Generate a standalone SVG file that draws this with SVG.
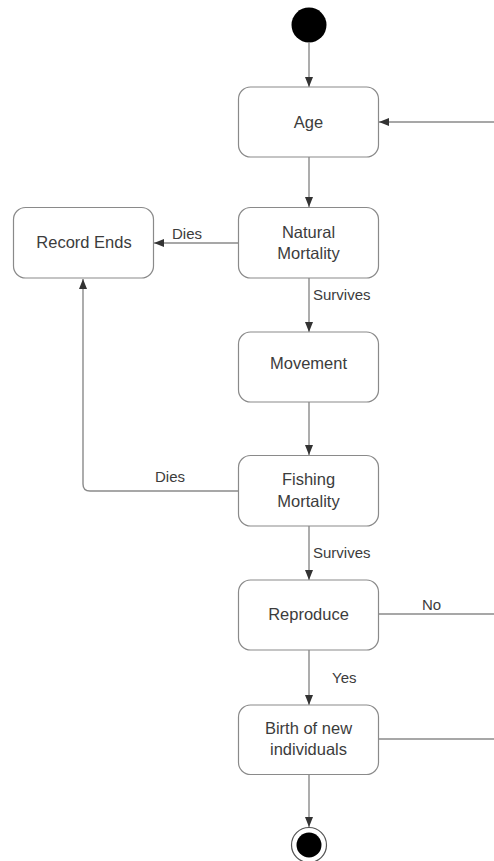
<svg xmlns="http://www.w3.org/2000/svg" width="494" height="861" viewBox="0 0 494 861">
<style>
.node rect{fill:#fff;stroke:#8a8a8a;stroke-width:1.2}
.node text{font-family:"Liberation Sans",Arial,sans-serif;font-size:16.5px;fill:#3c3c3c;text-anchor:middle}
.lbl{font-family:"Liberation Sans",Arial,sans-serif;font-size:15px;fill:#3c3c3c}
.edge{fill:none;stroke:#8a8a8a;stroke-width:1.4}
.arr{marker-end:url(#ah)}
</style>
<defs>
<marker id="ah" markerWidth="10" markerHeight="10" viewBox="0 0 10 10" refX="10" refY="5" orient="auto" markerUnits="userSpaceOnUse">
<path d="M0,1 L10,5 L0,9 Z" fill="#333"/>
</marker>
</defs>
<rect width="494" height="861" fill="#fff"/>
<g id="connectors">
<path class="edge arr" d="M309,43 V87"/>
<path class="edge arr" d="M494,122 H379"/>
<path class="edge arr" d="M309,157 V207"/>
<path class="edge arr" d="M239,243 H154"/>
<path class="edge arr" d="M309,278 V332"/>
<path class="edge arr" d="M309,402 V455"/>
<path class="edge arr" d="M239,491 H90 Q83,491 83,484 V279"/>
<path class="edge arr" d="M309,526 V580"/>
<path class="edge" d="M379,614 H494"/>
<path class="edge arr" d="M309,650 V705"/>
<path class="edge" d="M379,739 H494"/>
<path class="edge arr" d="M309,774 V827"/>
<text class="lbl" x="172" y="239">Dies</text>
<text class="lbl" x="313" y="300">Survives</text>
<text class="lbl" x="155" y="482">Dies</text>
<text class="lbl" x="313" y="558">Survives</text>
<text class="lbl" x="422" y="610">No</text>
<text class="lbl" x="332" y="683">Yes</text>
</g>
<g id="start"><circle cx="309" cy="25" r="17.5" fill="#000"/></g>
<g id="age" class="node"><rect x="238.5" y="87" width="140" height="70" rx="12"/><text x="308.5" y="128">Age</text></g>
<g id="natural" class="node"><rect x="238.5" y="207.5" width="140" height="70.5" rx="12"/><text x="308.5" y="238">Natural</text><text x="308.5" y="259">Mortality</text></g>
<g id="record" class="node"><rect x="13.5" y="207.5" width="140" height="70.5" rx="12"/><text x="84" y="248">Record Ends</text></g>
<g id="movement" class="node"><rect x="238.5" y="332" width="140" height="70" rx="12"/><text x="308.5" y="369">Movement</text></g>
<g id="fishing" class="node"><rect x="238.5" y="455.5" width="140" height="70.5" rx="12"/><text x="308.5" y="485">Fishing</text><text x="308.5" y="507">Mortality</text></g>
<g id="reproduce" class="node"><rect x="238.5" y="580" width="140" height="70" rx="12"/><text x="308.5" y="620">Reproduce</text></g>
<g id="birth" class="node"><rect x="238.5" y="705" width="140" height="69.5" rx="12"/><text x="308.5" y="734">Birth of new</text><text x="308.5" y="755">individuals</text></g>
<g id="end"><circle cx="309" cy="845" r="17.5" fill="#fff" stroke="#555" stroke-width="1.2"/><circle cx="309" cy="845" r="12.5" fill="#000"/></g>
</svg>
